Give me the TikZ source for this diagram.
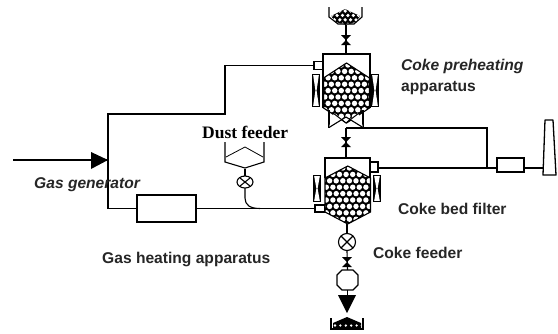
\documentclass[tikz,border=0pt]{standalone}
\usepackage{fontspec}
\setmainfont{Liberation Sans}
\newfontfamily\serifface{Liberation Serif}
\tikzset{
 pipe/.style={line width=1.1pt,line join=miter},
 unitbox/.style={draw,line width=1.1pt,fill=white,inner sep=0pt},
 feedvalve/.style={draw,circle,line width=1.1pt,fill=white,inner sep=0pt,
   path picture={\draw[line width=1.1pt] (path picture bounding box.north west) -- (path picture bounding box.south east) (path picture bounding box.north east) -- (path picture bounding box.south west);}},
 lab/.style={anchor=base west,inner sep=0pt,font=\fontsize{15.6}{17}\selectfont\bfseries\color{black!85}},
 labi/.style={lab,font=\fontsize{15.6}{17}\selectfont\bfseries\itshape\color{black!85}},
}
\newcommand{\hexpellets}[5]{% xl xr ytop yshoulder ylow
 \def\hexpath{(#1,#4) -- ({(#1+#2)/2},#3) -- (#2,#4) -- (#2,#5) -- ({(#1+#2)/2},{#5+#4-#3}) -- (#1,#5) -- cycle}
 \begin{scope}
 \fill[black] \hexpath;
 \clip \hexpath;
 \foreach \r in {0,...,10}{\foreach \c in {0,...,8}{
   \pgfmathsetmacro{\px}{#1-2+\c*6.6+mod(\r,2)*3.3}
   \pgfmathsetmacro{\py}{#3+2+\r*6.4}
   \fill[white] (\px,\py) circle (2.7);
 }}
 \end{scope}
 \draw[line width=1.1pt,line join=miter] \hexpath;
}
\newcommand{\sidebox}[4]{% xl ytop xr ybottom
 \fill[black] (#1,#2) rectangle (#3,#4);
 \fill[white] ({#1+1.2},{#2+1.2}) -- ({#3-1.2},{#2+1.2}) -- ({(#1+#3)/2+.6},{(#2+#4)/2}) -- ({(#1+#3)/2-.6},{(#2+#4)/2}) -- cycle;
 \fill[white] ({#1+1.2},{#4-1.2}) -- ({#3-1.2},{#4-1.2}) -- ({(#1+#3)/2+.6},{(#2+#4)/2}) -- ({(#1+#3)/2-.6},{(#2+#4)/2}) -- cycle;
}
\newcommand{\gatevalve}[2]{%
 \fill[black] ({#1-5},{#2-5}) -- ({#1+5},{#2-5}) -- ({#1-5},{#2+5}) -- ({#1+5},{#2+5}) -- cycle;
}
\begin{document}
\begin{tikzpicture}[x=1pt,y=-1pt]
\useasboundingbox[fill=white] (0,0) rectangle (558,333);

% named units
\node[unitbox,minimum width=59pt,minimum height=27pt] (heater) at (166.5,208.5) {};
\node[unitbox,minimum width=27pt,minimum height=14pt] (fan) at (510.5,165) {};
\node[unitbox,minimum width=9pt,minimum height=8pt] (stubA) at (318.5,65.5) {};
\node[unitbox,minimum width=10pt,minimum height=7pt] (stubB) at (320,208.5) {};
\node[unitbox,minimum width=8pt,minimum height=10pt] (stubC) at (374,167) {};
\coordinate (inlet) at (13,160);
\coordinate (junction) at (108,160);
\coordinate (cornerTop) at (108,114);
\coordinate (cornerMid) at (225,114);
\coordinate (cornerBottom) at (108,208.5);
\coordinate (topBin) at (346,25);
\coordinate (vesselAtop) at (346,54);
\coordinate (vesselAbottom) at (346,128);
\coordinate (vesselBtop) at (346,158);
\coordinate (vesselBbottom) at (347,222);
\coordinate (bend) at (487,128);
\coordinate (bendLow) at (487,168);
\coordinate (stubOut) at (378,168);
\coordinate (fanIn) at (497,168);
\coordinate (fanOut) at (524,168);
\coordinate (stackFoot) at (544,168);
\coordinate (dustOut) at (245,169);
\coordinate (merge) at (260,208.5);
\coordinate (dustValve) at (245,182);
\node[feedvalve,minimum size=17pt] (cokeValve) at (347,242) {};
\node[draw=none,inner sep=0pt,minimum width=21pt,minimum height=20pt] (cokeHex) at (347.5,280) {};

% pipes
\draw[pipe] (inlet) -- (junction);
\fill[black] (91,152) -- (108,160) -- (91,169) -- cycle;
\draw[pipe] (stubA.west) -| (cornerMid) -- (cornerTop) -- (cornerBottom) -- (heater.west);
\draw[pipe] (heater.east) -- (stubB.west);
\draw[pipe] (dustValve) -- (245,198) .. controls (245,205) and (250,208.5) .. (merge);
\draw[pipe] (topBin) -- (vesselAtop);
\draw[pipe] (vesselAbottom) -- (vesselBtop);
\draw[pipe] (vesselAbottom) -- (bend) -- (bendLow);
\draw[pipe] (stubOut) -- (fanIn);
\draw[pipe] (fanOut) -- (stackFoot);
\draw[pipe] (vesselBbottom) -- (cokeValve.north);
\draw[pipe] (cokeValve.south) -- (cokeHex.north);
\gatevalve{346}{40}
\gatevalve{346}{142}
\gatevalve{347}{262}

% top bin
\begin{scope}
\fill[black] (331,16) -- (345,9) -- (360,16) -- (356,22) -- (346,25) -- (336,22) -- cycle;
\clip (331,16) -- (345,9) -- (360,16) -- (356,22) -- (346,25) -- (336,22) -- cycle;
\foreach \r in {0,1,2,3}{\foreach \c in {0,...,6}{
  \fill[white] ({329+\c*5.4+mod(\r,2)*2.7},{11+\r*4.4}) circle (1.8);}}
\end{scope}
\draw[pipe] (329,7) -- (329,17) -- (338,24) -- (354,24) -- (362,17) -- (362,7);

% vessel A
\draw[pipe] (323,108) -- (323,54) -- (370,54) -- (370,108);
\hexpellets{323.5}{369.5}{63}{78}{108}
\draw[pipe] (329,110) -- (329,127.5);
\draw[pipe] (363,110) -- (363,127.5);
\fill[white] (329,127) -- (334,113) -- (346,122) -- (358,113) -- (363,127) -- (346,117) -- cycle;
\draw[line width=1pt] (333,113) -- (346,123) -- (359,113);
\draw[pipe] (329,127.5) -- (346,117) -- (363,127.5);
\sidebox{312}{74}{320}{107}
\sidebox{371}{74}{379}{107}

% vessel B
\draw[pipe] (325,178) -- (325,158) -- (370,158) -- (370,178);
\hexpellets{325}{370.5}{166}{178}{212}
\sidebox{313}{175}{321}{202}
\sidebox{373}{175}{381}{202}

% dust feeder
\draw[pipe] (225,142) -- (225,162) -- (245,168) -- (264,162) -- (264,142);
\draw[line width=.8pt] (226,157) -- (245,147) -- (263,157);
\draw[pipe] (dustOut) -- (245,176);
\draw[line width=1.1pt,fill=white] (245,182) ellipse (8 and 6);
\draw[line width=1.1pt] (240,178) -- (250,186) (240,186) -- (250,178);

% coke outlet
\draw[pipe] (337,275) -- (342,270) -- (353,270) -- (358,275) -- (358,285) -- (353,290) -- (342,290) -- (337,285) -- cycle;
\draw[pipe] (347.5,290) -- (347.5,296);
\fill[black] (338,295) -- (356,295) -- (347,313) -- cycle;

% bottom bin
\begin{scope}
\fill[black] (333,329) -- (333,323) -- (347,317) -- (361,323) -- (361,329) -- cycle;
\clip (333,329) -- (333,323) -- (347,317) -- (361,323) -- (361,329) -- cycle;
\foreach \c in {0,...,5}{\fill[white] ({335+\c*5.4},325.5) circle (1.3);}
\end{scope}
\draw[pipe] (331,318) -- (331,329) -- (363,329) -- (363,318);

% stack
\draw[line width=1.3pt,line join=round,fill=white] (545,120) -- (553,120) -- (556,175) -- (543,175) -- cycle;

% labels
\node[labi] (t1) at (401,70) {Coke preheating};
\node[lab] (t2) at (401,91) {apparatus};
\node[lab,font=\fontsize{17.5}{19}\selectfont\bfseries\serifface] (t3) at (202,138) {Dust feeder};
\node[labi] (t4) at (34,188) {Gas generator};
\node[lab] (t5) at (102,263) {Gas heating apparatus};
\node[lab] (t6) at (398,214) {Coke bed filter};
\node[lab] (t7) at (373,258) {Coke feeder};
\end{tikzpicture}
\end{document}
